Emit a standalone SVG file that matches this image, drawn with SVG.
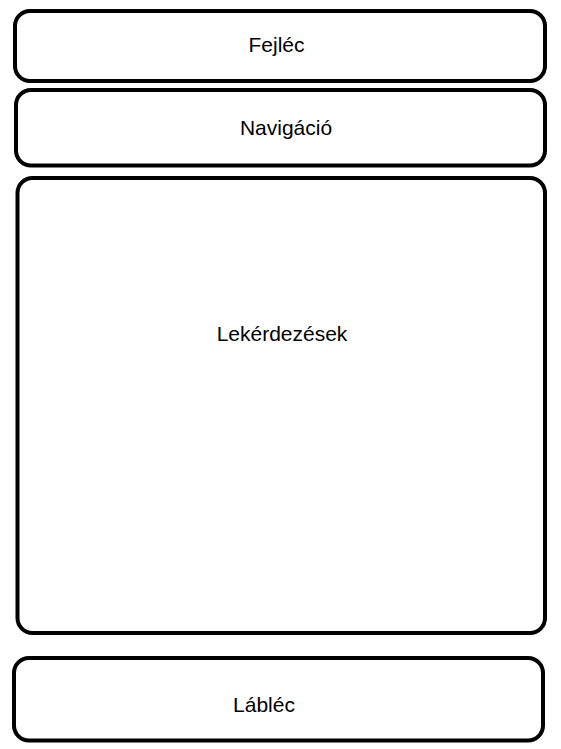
<svg xmlns="http://www.w3.org/2000/svg" width="561" height="749" viewBox="0 0 561 749">
<style>
.box{fill:#fff;stroke:#000;stroke-width:4}
.lbl{font-family:"Liberation Sans",Arial,sans-serif;font-size:21px;fill:#000;text-anchor:middle}
</style>
<rect width="561" height="749" fill="#fff"/>
<g id="fejlec"><rect class="box" x="15" y="11" width="530" height="70" rx="15"/><text class="lbl" x="276.5" y="52">Fejléc</text></g>
<g id="navigacio"><rect class="box" x="16" y="90" width="529" height="75.5" rx="15"/><text class="lbl" x="286" y="135">Navigáció</text></g>
<g id="lekerdezesek"><rect class="box" x="17.5" y="178" width="527.5" height="455" rx="15"/><text class="lbl" x="282" y="341">Lekérdezések</text></g>
<g id="lablec"><rect class="box" x="14" y="658" width="529" height="82.5" rx="15"/><text class="lbl" x="264" y="712">Lábléc</text></g>
<g id="connectors"/>
</svg>
